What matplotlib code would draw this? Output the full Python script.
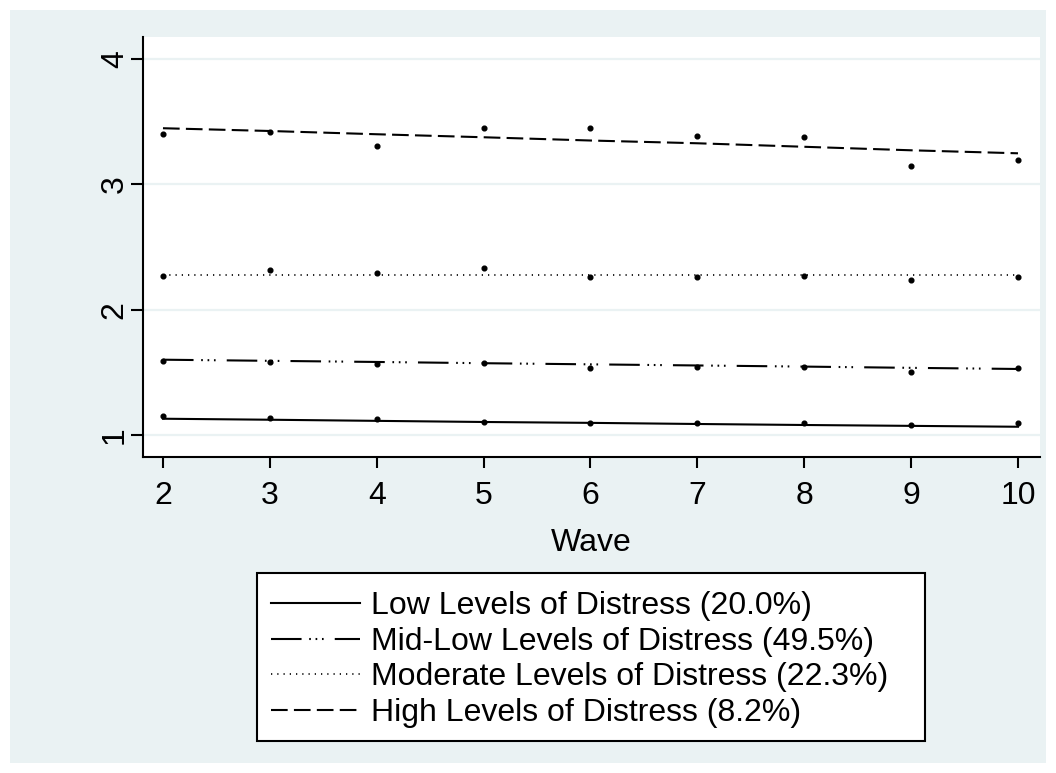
import matplotlib
matplotlib.use('Agg')
import matplotlib.pyplot as plt
from matplotlib.patches import Rectangle

plt.rcParams['font.family'] = ['Liberation Sans', 'DejaVu Sans']
# los patrones de guiones van en puntos, sin escalar con el grosor
plt.rcParams['lines.scale_dashes'] = False

# Olas de la encuesta
waves = [2, 3, 4, 5, 6, 7, 8, 9, 10]

# Medias observadas por grupo
obs_low = [1.154, 1.138, 1.130, 1.104, 1.093, 1.093, 1.093, 1.082, 1.096]
obs_midlow = [1.593, 1.580, 1.569, 1.575, 1.535, 1.540, 1.540, 1.503, 1.532]
obs_moderate = [2.267, 2.319, 2.293, 2.335, 2.261, 2.261, 2.271, 2.237, 2.261]
obs_high = [3.400, 3.418, 3.306, 3.448, 3.450, 3.390, 3.376, 3.144, 3.197]

# Trayectorias estimadas por grupo
fit_low = [1.130, 1.122, 1.113, 1.104, 1.097, 1.088, 1.080, 1.073, 1.066]
fit_midlow = [1.601, 1.592, 1.583, 1.573, 1.564, 1.555, 1.546, 1.536, 1.527]
fit_moderate = [2.277, 2.277, 2.277, 2.277, 2.277, 2.277, 2.277, 2.277, 2.277]
fit_high = [3.448, 3.426, 3.400, 3.376, 3.350, 3.328, 3.300, 3.272, 3.248]

labels = ['Low Levels of Distress (20.0%)',
          'Mid-Low Levels of Distress (49.5%)',
          'Moderate Levels of Distress (22.3%)',
          'High Levels of Distress (8.2%)']

W, H = 1056, 773
fondo = '#EAF2F3'
tam = 23

fig = plt.figure(figsize=(W / 100, H / 100), dpi=100)
fig.patch.set_facecolor('white')
# Marco de color claro alrededor del grafico
fig.patches.append(Rectangle((10 / W, 10 / H), 1 - 20 / W, 1 - 20 / H,
                             transform=fig.transFigure, facecolor=fondo,
                             edgecolor='none', zorder=-10))
# Caja de la leyenda
fig.patches.append(Rectangle((257 / W, 1 - 741 / H), (925 - 257) / W, (741 - 573) / H,
                             transform=fig.transFigure, facecolor='white',
                             edgecolor='black', linewidth=1.5, zorder=-5))

ax = fig.add_axes([143 / W, 1 - 456.7 / H, (1040 - 143) / W, (456.7 - 37) / H])
ax.set_facecolor('white')

estilos = [
    dict(linestyle='-', linewidth=1.5),
    dict(linestyle=(0, (22, 5.5, 1.2, 3.4, 1.2, 3.4, 1.2, 8)), linewidth=1.5),
    dict(linestyle=(0, (0.9, 3.6)), linewidth=1.2),
    dict(linestyle=(0, (12, 4.5)), linewidth=1.5),
]
ajustes = [fit_low, fit_midlow, fit_moderate, fit_high]
observados = [obs_low, obs_midlow, obs_moderate, obs_high]

for fit, obs, est, lab in zip(ajustes, observados, estilos, labels):
    ax.plot(waves, fit, color='black', label=lab, **est)
    ax.plot(waves, obs, linestyle='none', marker='o', markersize=3.4,
            color='black')

ax.set_xlim(1.813, 10.206)
ax.set_ylim(0.827, 4.176)
ax.set_xticks(waves)
ax.set_yticks([1, 2, 3, 4])
ax.grid(axis='y', color=fondo, linewidth=1.6)
ax.set_axisbelow(True)

for lado in ['top', 'right']:
    ax.spines[lado].set_visible(False)
for lado in ['left', 'bottom']:
    ax.spines[lado].set_linewidth(1.5)

ax.tick_params(axis='x', length=8, width=1.5, labelsize=tam, pad=9.5)
ax.tick_params(axis='y', length=9, width=1.5, labelsize=tam, pad=0.5)
for t in ax.get_yticklabels():
    t.set_rotation(90)
    t.set_va('center')

ax.set_xlabel('Wave', fontsize=tam, labelpad=12.5)

leg = fig.legend(loc='upper left', bbox_to_anchor=(271 / W, 1 - 591 / H),
                 fontsize=tam, frameon=False,
                 handlelength=2.8, handletextpad=0.34, labelspacing=0.18,
                 borderpad=0, borderaxespad=0)

fig.savefig('out.png', dpi=100, facecolor=fig.get_facecolor())
